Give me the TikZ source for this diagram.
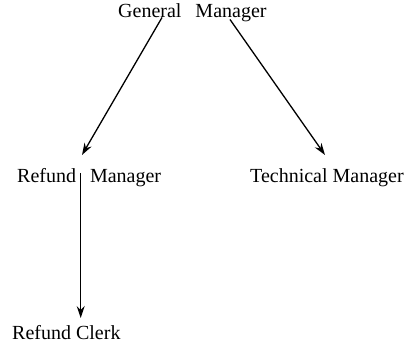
\documentclass[tikz,border=0pt]{standalone}
\usepackage{fontspec}
\setmainfont{Liberation Serif}
\usetikzlibrary{arrows.meta}
\begin{document}
\begin{tikzpicture}[x=1pt,y=1pt,
  role/.style={anchor=base west,inner sep=0pt,font=\fontsize{20}{24}\selectfont},
  link/.style={line width=1.3pt,-{Stealth[length=12pt,width=8pt,inset=4pt]}}]
  \useasboundingbox (0,0) rectangle (411,345);
  % organisation chart
  \node[role] (gm) at (118,327.5) {General\hspace{0.7em}Manager};
  \node[role] (rm) at (17,162) {Refund\hspace{0.7em}Manager};
  \node[role] (tm) at (250,162) {Technical Manager};
  \node[role] (rc) at (12,5.5) {Refund Clerk};
  % reporting lines
  \draw[link] ([shift={(44,0)}]gm.base west) -- ([shift={(65,28)}]rm.base west);
  \draw[link] ([shift={(112,-2)}]gm.base west) -- ([shift={(75,28)}]tm.base west);
  \draw[link] ([shift={(63.7,10)}]rm.base west) -- ([shift={(68.7,21.5)}]rc.base west);
\end{tikzpicture}
\end{document}
